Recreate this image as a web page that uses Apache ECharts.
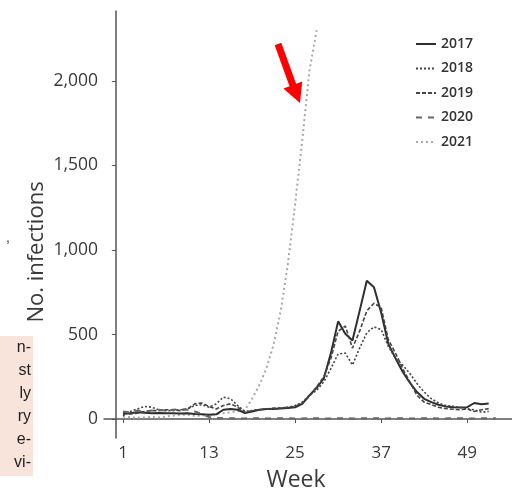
<!DOCTYPE html>
<html>
<head>
<meta charset="utf-8">
<script src="https://cdn.jsdelivr.net/npm/echarts@6/dist/echarts.min.js"></script>
<style>
html,body{margin:0;padding:0;background:#fff;}
#chart{width:512px;height:490px;}
</style>
</head>
<body>
<div id="chart"></div>
<script>
// ---- data ----
var weeks = [1,2,3,4,5,6,7,8,9,10,11,12,13,14,15,16,17,18,19,20,21,22,23,24,25,26,27,28,29,30,31,32,33,34,35,36,37,38,39,40,41,42,43,44,45,46,47,48,49,50,51,52,53];
var xTicks = [1,13,25,37,49];
var yTicks = [0,500,1000,1500,2000];
var seriesNames = ['2017','2018','2019','2020','2021'];

var s2017 = [30,35,40,38,35,36,34,35,33,35, 30,28,25,28,55,60,55,35,45,55, 60,60,62,65,70,90,140,185,240,390, 578,505,465,640,818,780,630,445,360,280, 215,160,120,100,85,75,70,68,70,95, 88,92];
var s2018 = [20,45,60,75,70,55,50,50,55,60, 80,85,70,90,130,120,80,45,50,55, 60,60,65,70,80,100,140,170,220,300, 385,390,320,420,510,545,530,430,360,320, 270,210,160,120,95,80,75,70,60,55, 40,45];
var s2019 = [40,30,35,45,50,50,55,55,50,60, 90,95,75,60,80,90,70,40,50,55, 60,65,65,70,75,95,135,190,250,360, 520,550,420,520,640,685,660,470,390,300, 220,140,100,85,70,62,58,55,60,45, 55,62];
var s2020 = [45,40,50,45,50,55,50,55,60,55, 45,30,12,6,5,5,4,4,5,5, 4,4,5,5,4,4,5,5,4,4, 5,5,4,4,5,5,4,4,5,5, 4,4,5,5,4,4,5,5,4,4, 5,5,5];
var s2021 = [15,10,8,10,12,10,15,20,25,25, 20,20,25,30,35,40,45,55,120,200, 300,440,640,920,1270,1650,2060,2300];

function pairs(arr){ return arr.map(function(v,i){ return [weeks[i], v]; }); }

var styles = {
  '2017': {color:'#2e2e2e', width:2, type:'solid'},
  '2018': {color:'#444', width:1.6, type:[2,2]},
  '2019': {color:'#444', width:1.6, type:[4,2]},
  '2020': {color:'#666', width:2, type:[6,6]},
  '2021': {color:'#a8a8a8', width:2, type:[2,3]}
};
var dataMap = {'2017':s2017,'2018':s2018,'2019':s2019,'2020':s2020,'2021':s2021};

var chart = echarts.init(document.getElementById('chart'), null, {renderer:'canvas'});
var font = 'Open Sans';

function side(t, y){
  return {type:'text', x:31, y:y, style:{text:t, fontFamily:'Liberation Sans', fontSize:16, fill:'#1e1e1e', align:'right', verticalAlign:'middle'}};
}

var option = {
  backgroundColor:'#fff',
  animation:false,
  grid:{left:104, top:11, right:0, bottom:52, containLabel:false},
  legend:{
    orient:'vertical', left:410, top:32,
    itemWidth:20, itemHeight:14, itemGap:10.5,
    data:seriesNames,
    itemStyle:{opacity:0},
    textStyle:{fontFamily:font, fontSize:14, color:'#333', fontWeight:600}
  },
  xAxis:{
    type:'value', min:-1.65, max:55.25,
    splitLine:{show:false},
    axisLine:{lineStyle:{color:'#555', width:1.5}},
    axisTick:{customValues:xTicks, length:4, lineStyle:{color:'#555'}},
    axisLabel:{customValues:xTicks, margin:7, fontFamily:font, fontSize:17, color:'#3a3a3a'}
  },
  yAxis:{
    type:'value', min:-112, max:2414,
    splitLine:{show:false},
    axisLine:{show:true, lineStyle:{color:'#555', width:1.5}},
    axisTick:{show:true, customValues:yTicks, length:4, lineStyle:{color:'#555'}},
    axisLabel:{customValues:yTicks, margin:6, fontFamily:font, fontSize:17.5, color:'#3a3a3a',
      formatter:function(v){ return v.toLocaleString('en-US'); }}
  },
  series: seriesNames.map(function(n){
    return {
      name:n, type:'line', data:pairs(dataMap[n]), symbol:'none',
      lineStyle:{color:styles[n].color, width:styles[n].width, type:styles[n].type},
      itemStyle:{color:styles[n].color},
      z: n==='2021'?1:2
    };
  }),
  graphic:[
    {type:'text', x:37, y:252, rotation:Math.PI/2,
     style:{text:'No. infections', fontFamily:font, fontSize:22, fill:'#3a3a3a', align:'center', verticalAlign:'middle'}},
    {type:'text', x:296, y:480,
     style:{text:'Week', fontFamily:font, fontSize:23, fill:'#3a3a3a', align:'center', verticalAlign:'middle'}},
    {type:'polygon', shape:{points:[[274.7,45.2],[281.3,42.8],[296.1,83.8],[302.2,81.5],[300,103],[283.4,88.5],[289.5,86.2]]},
     style:{fill:'#ff0000'}},
    {type:'rect', shape:{x:0, y:336, width:33, height:140}, style:{fill:'#f9e4dc'}},
    side('n-',348), side('st',371), side('ly',394), side('ry',417), side('e-',440), side('vi-',463),
    {type:'text', x:8, y:238, style:{text:',', fontFamily:'Liberation Sans', fontSize:14, fill:'#333', align:'center', verticalAlign:'middle'}}
  ]
};
chart.setOption(option);
</script>
</body>
</html>
